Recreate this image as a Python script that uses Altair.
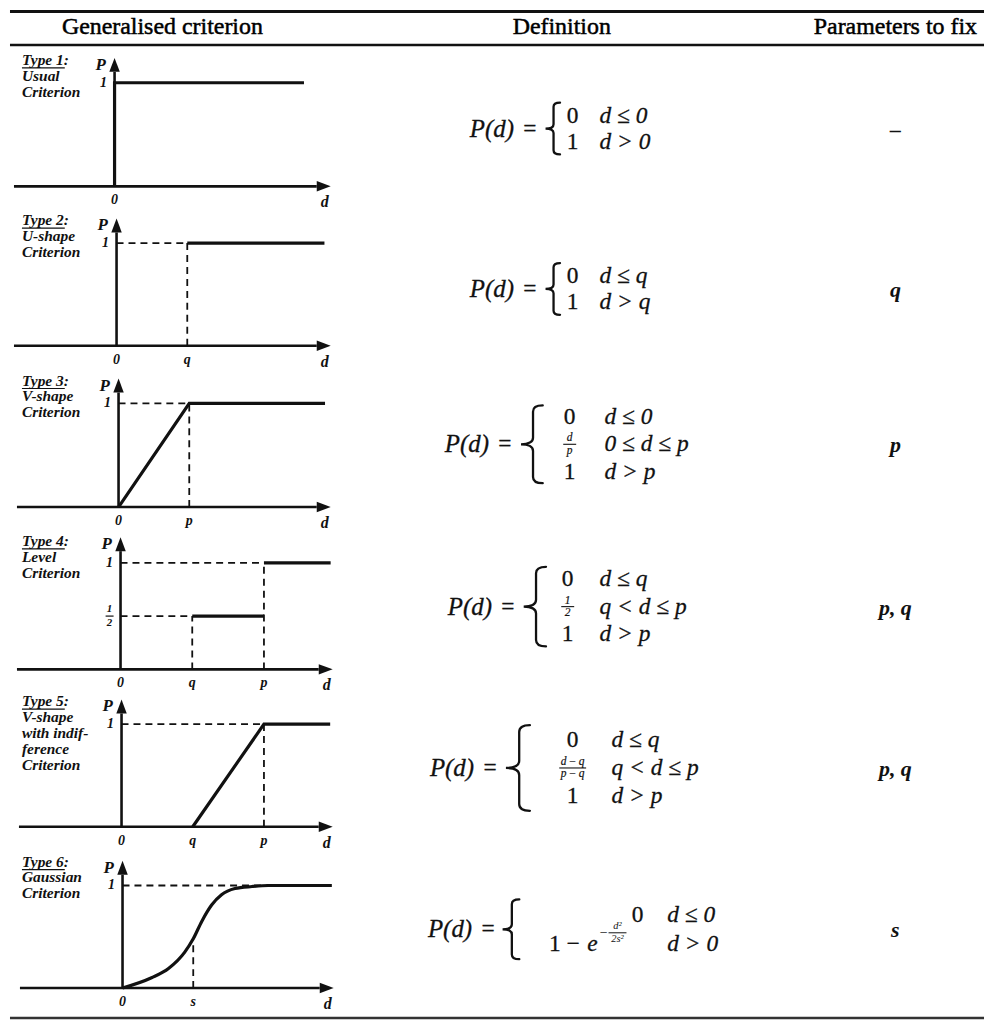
import altair as alt
import pandas as pd

# ---------------- data ----------------
HEADERS = ["Generalised criterion", "Definition", "Parameters to fix"]

TYPE_TEXT = [
    ["Type 1:", "Usual", "Criterion"],
    ["Type 2:", "U-shape", "Criterion"],
    ["Type 3:", "V-shape", "Criterion"],
    ["Type 4:", "Level", "Criterion"],
    ["Type 5:", "V-shape", "with indif-", "ference", "Criterion"],
    ["Type 6:", "Gaussian", "Criterion"],
]

# Gaussian curve (d in units of s)
GAUSS_D = [0, 0.41, 0.65, 0.88, 1.0, 1.12, 1.26, 1.40, 1.59, 1.83, 2.06, 2.96]
GAUSS_P = [0, 0.10, 0.19, 0.35, 0.48, 0.65, 0.81, 0.91, 0.97, 0.99, 1.0, 1.0]

# solid preference curves per type: list of segments, each a list of (d, P)
SOLID_LINES = [
    [[(0, 0), (0, 1), (2.66, 1)]],
    [[(1, 1), (2.94, 1)]],
    [[(0, 0), (1, 1), (2.92, 1)]],
    [[(1, 0.5), (2, 0.5)], [(2, 1), (2.93, 1)]],
    [[(1, 0), (2, 1), (2.93, 1)]],
    [list(zip(GAUSS_D, GAUSS_P))],
]

# dashed guide segments per type: (d1, P1, d2, P2)
DASHED_SEGMENTS = [
    [],
    [(0, 1, 1, 1), (1, 0, 1, 1)],
    [(0, 1, 1, 1), (1, 0, 1, 1)],
    [(0, 1, 2, 1), (0, 0.5, 1, 0.5), (1, 0, 1, 0.5), (2, 0, 2, 1)],
    [(0, 1, 2, 1), (2, 0, 2, 1)],
    [(0, 1, 2.7, 1), (1, 0, 1, 0.48)],
]

TICK_TEXT = [["0"], ["0", "q"], ["0", "p"], ["0", "q", "p"], ["0", "q", "p"], ["0", "s"]]
TICK_D = [[0], [0, 1], [0, 1], [0, 1, 2], [0, 1, 2], [0, 1]]

F_LHS = ["P(d)", "="]
F_VALUES = [
    ["0", "1"],
    ["0", "1"],
    ["0", "d/p", "1"],
    ["0", "1/2", "1"],
    ["0", "d\u2009−\u2009q/p\u2009−\u2009q", "1"],
    ["0", "1 −", "e"],
]
F_EXPONENT = ["−", "d²", "2s²"]
F_CONDS = [
    ["d ≤ 0", "d > 0"],
    ["d ≤ q", "d > q"],
    ["d ≤ 0", "0 ≤ d ≤ p", "d > p"],
    ["d ≤ q", "q < d ≤ p", "d > p"],
    ["d ≤ q", "q < d ≤ p", "d > p"],
    ["d ≤ 0", "d > 0"],
]
PARAMS = ["–", "q", "p", "p, q", "p, q", "s"]

# ---------------- layout ----------------
W = 978
ROW_H = 161
HEADER_H = 36
FOOTER_H = 14
SERIF = "Liberation Serif"
INK = "#111111"
OFF = 8  # page margin: reference px -> chart px

ZERO_REF = [113, 115, 117, 119, 120, 121]
UX = [71.5, 71.0, 71.0, 72.0, 71.5, 71.0]
BASE = [141, 140, 141, 143, 140, 141]
UY = [104, 103, 104, 107, 103, 103]
AXIS_START_REF = [12, 12, 15, 15, 17, 18]
AXIS_TIP_REF = [330, 330, 330, 332, 332, 333]
ARROW_TOP = 1.24

# formula layout (reference px)
FL = [
    dict(lhs=540, brace=553, bh=52, val=573, cond=600, yc=83, gap=26),
    dict(lhs=540, brace=553, bh=52, val=573, cond=600, yc=83, gap=26),
    dict(lhs=515, brace=532, bh=78, val=570, cond=605, yc=78, gap=27.5),
    dict(lhs=518, brace=535, bh=80, val=568, cond=600, yc=80, gap=27.5),
    dict(lhs=500, brace=518, bh=86, val=573, cond=612, yc=81, gap=28),
    dict(lhs=498, brace=511, bh=60, val=644, cond=668, yc=82, gap=29),
]
PARAM_X = 897
MATH_SIZE = 23.5

BRACE_PATH = ("M 0.28 -1 C 0.1 -1 0.03 -0.95 0.03 -0.84 L 0.03 -0.17 "
              "C 0.03 -0.06 -0.08 0 -0.28 0 C -0.08 0 0.03 0.06 0.03 0.17 "
              "L 0.03 0.84 C 0.03 0.95 0.1 1 0.28 1")


def ident_text(df, **props):
    return alt.Chart(df).mark_text(**props).encode(
        x=alt.X("px:Q", scale=None, axis=None),
        y=alt.Y("py:Q", scale=None, axis=None),
        text="t:N",
    )


def ident_rule(df, **props):
    return alt.Chart(df).mark_rule(**props).encode(
        x=alt.X("px:Q", scale=None, axis=None),
        x2="px2:Q",
        y=alt.Y("py:Q", scale=None, axis=None),
        y2="py2:Q",
    )


def row_chart(i):
    z = ZERO_REF[i] - OFF
    ux, uy, b = UX[i], UY[i], BASE[i]
    xs = alt.Scale(domain=[-z / ux, (W - z) / ux], nice=False, zero=False)
    ys = alt.Scale(domain=[-(ROW_H - b) / uy, b / uy], nice=False, zero=False)

    def X(f):
        return alt.X(f, type="quantitative", scale=xs, axis=None)

    def Y(f):
        return alt.Y(f, type="quantitative", scale=ys, axis=None)

    d_start = (AXIS_START_REF[i] - ZERO_REF[i]) / ux
    d_tip = (AXIS_TIP_REF[i] - ZERO_REF[i]) / ux
    ah = 14  # arrow head length px

    axes = pd.DataFrame({
        "x": [d_start, 0], "x2": [d_tip - ah / ux, 0],
        "y": [0, 0], "y2": [0, ARROW_TOP - ah / uy],
    })
    axis_layer = alt.Chart(axes).mark_rule(strokeWidth=2.6, color=INK).encode(
        x=X("x"), x2="x2", y=Y("y"), y2="y2")

    right = pd.DataFrame({"x": [d_tip - ah / 2 / ux], "y": [0]})
    up = pd.DataFrame({"x": [0], "y": [ARROW_TOP - ah / 2 / uy]})
    arrow_r = alt.Chart(right).mark_point(
        shape="M -1 -0.75 L 1 0 L -1 0.75 Z", filled=True, size=ah * ah,
        color=INK, opacity=1, strokeWidth=0).encode(x=X("x"), y=Y("y"))
    arrow_u = alt.Chart(up).mark_point(
        shape="M -0.75 1 L 0 -1 L 0.75 1 Z", filled=True, size=ah * ah,
        color=INK, opacity=1, strokeWidth=0).encode(x=X("x"), y=Y("y"))

    layers = [axis_layer, arrow_r, arrow_u]

    if DASHED_SEGMENTS[i]:
        dd = pd.DataFrame(DASHED_SEGMENTS[i], columns=["x", "y", "x2", "y2"])
        layers.append(alt.Chart(dd).mark_rule(
            strokeWidth=1.8, strokeDash=[7, 5], color=INK).encode(
            x=X("x"), x2="x2", y=Y("y"), y2="y2"))

    rows = []
    for s, seg in enumerate(SOLID_LINES[i]):
        for k, (d, p) in enumerate(seg):
            rows.append({"seg": s, "k": k, "d": d, "P": p})
    sd = pd.DataFrame(rows)
    layers.append(alt.Chart(sd).mark_line(
        strokeWidth=3.2, color=INK,
        interpolate="monotone" if i == 5 else "linear",
        strokeJoin="miter").encode(
        x=X("d"), y=Y("P"), detail="seg:N", order="k:Q"))

    lab_font = dict(font=SERIF, fontStyle="italic", fontWeight="bold",
                    color=INK, baseline="middle")
    tk = pd.DataFrame({"d": TICK_D[i], "t": TICK_TEXT[i]})
    tk["y"] = -14 / uy
    layers.append(alt.Chart(tk).mark_text(fontSize=14, align="center", **lab_font)
                  .encode(x=X("d"), y=Y("y"), text="t:N"))
    dl = pd.DataFrame({"d": [d_tip - 6 / ux], "y": [-16 / uy], "t": ["d"]})
    layers.append(alt.Chart(dl).mark_text(fontSize=16, align="center", **lab_font)
                  .encode(x=X("d"), y=Y("y"), text="t:N"))
    pl = pd.DataFrame({"d": [-14 / ux], "y": [ARROW_TOP - 7 / uy], "t": ["P"]})
    layers.append(alt.Chart(pl).mark_text(fontSize=17, align="center", **lab_font)
                  .encode(x=X("d"), y=Y("y"), text="t:N"))
    one = pd.DataFrame({"d": [-11 / ux], "y": [1.0], "t": ["1"]})
    layers.append(alt.Chart(one).mark_text(fontSize=14, align="center", **lab_font)
                  .encode(x=X("d"), y=Y("y"), text="t:N"))
    if i == 3:
        half = pd.DataFrame({"d": [-11 / ux, -11 / ux], "y": [0.5 + 7 / uy, 0.5 - 7 / uy],
                             "t": ["1", "2"]})
        layers.append(alt.Chart(half).mark_text(fontSize=11, align="center", **lab_font)
                      .encode(x=X("d"), y=Y("y"), text="t:N"))
        hb = pd.DataFrame({"x": [-15 / ux], "x2": [-7 / ux], "y": [0.5], "y2": [0.5]})
        layers.append(alt.Chart(hb).mark_rule(strokeWidth=1.2, color=INK).encode(
            x=X("x"), x2="x2", y=Y("y"), y2="y2"))

    # type label
    tl = pd.DataFrame({"px": [12], "py": [7], "t": ["\n".join(TYPE_TEXT[i])]})
    layers.append(ident_text(tl, font=SERIF, fontStyle="italic", fontWeight="bold",
                             fontSize=15.5, lineHeight=16, lineBreak="\n",
                             align="left", baseline="top", color=INK))
    ul = pd.DataFrame({"px": [12], "px2": [55], "py": [22], "py2": [22]})
    layers.append(ident_rule(ul, strokeWidth=1.2, color=INK))

    # formula
    f = FL[i]
    n = len(F_CONDS[i])
    ys_lines = [f["yc"] + (k - (n - 1) / 2) * f["gap"] for k in range(n)]
    math = dict(font=SERIF, fontSize=MATH_SIZE, color=INK, baseline="middle",
                stroke=INK, strokeWidth=0.3)
    lhs = pd.DataFrame({"px": [f["lhs"] - 26 - OFF], "py": [f["yc"]], "t": [F_LHS[0]]})
    layers.append(ident_text(lhs, fontStyle="italic", align="right", fontSize=25,
                             font=SERIF, color=INK, baseline="middle",
                             stroke=INK, strokeWidth=0.3))
    eq = pd.DataFrame({"px": [f["lhs"] - 10 - OFF], "py": [f["yc"]], "t": [F_LHS[1]]})
    layers.append(ident_text(eq, align="center", **math))
    br = pd.DataFrame({"px": [f["brace"] - OFF], "py": [f["yc"]]})
    layers.append(alt.Chart(br).mark_point(
        shape=BRACE_PATH, filled=False, size=f["bh"] ** 2, strokeWidth=2.3,
        color=INK, opacity=1, strokeCap="round").encode(
        x=alt.X("px:Q", scale=None, axis=None), y=alt.Y("py:Q", scale=None, axis=None)))
    conds = pd.DataFrame({"px": [f["cond"] - OFF] * n, "py": ys_lines, "t": F_CONDS[i]})
    layers.append(ident_text(conds, fontStyle="italic", align="left", **math))

    small = dict(font=SERIF, fontStyle="italic", fontSize=11.5, color=INK,
                 baseline="middle", align="center", stroke=INK, strokeWidth=0.2)
    plain_rows, frac_num, frac_bar = [], [], []
    if i == 5:
        y1, y2 = ys_lines
        layers.append(ident_text(pd.DataFrame({"px": [f["val"] - OFF], "py": [y1],
                                               "t": [F_VALUES[i][0]]}),
                                 align="right", **math))
        layers.append(ident_text(pd.DataFrame({"px": [580 - OFF], "py": [y2],
                                               "t": [F_VALUES[i][1]]}),
                                 align="right", **math))
        layers.append(ident_text(pd.DataFrame({"px": [598 - OFF], "py": [y2],
                                               "t": [F_VALUES[i][2]]}),
                                 fontStyle="italic", align="right", **math))
        ex = pd.DataFrame({"px": [604 - OFF], "py": [y2 - 11], "t": [F_EXPONENT[0]]})
        layers.append(ident_text(ex, font=SERIF, fontSize=14, color=INK,
                                 baseline="middle", align="center"))
        fx = pd.DataFrame({"px": [618 - OFF, 618 - OFF],
                           "py": [y2 - 17.5, y2 - 5],
                           "t": [F_EXPONENT[1], F_EXPONENT[2]]})
        layers.append(ident_text(fx, font=SERIF, fontStyle="italic", fontSize=10.5,
                                 color=INK, baseline="middle", align="center"))
        layers.append(ident_rule(pd.DataFrame({"px": [609 - OFF], "px2": [627 - OFF],
                                               "py": [y2 - 11], "py2": [y2 - 11]}),
                                 strokeWidth=1, color=INK))
    else:
        for k, v in enumerate(F_VALUES[i]):
            if "/" in v:
                a, c = v.split("/")
                cx = f["val"] - OFF
                frac_num.append({"px": cx, "py": ys_lines[k] - 6, "t": a})
                frac_num.append({"px": cx, "py": ys_lines[k] + 6.5, "t": c})
                w = 6 + 7 * max(len(a.replace("\u2009", "")), len(c.replace("\u2009", "")))
                frac_bar.append({"px": cx - w / 2, "px2": cx + w / 2,
                                 "py": ys_lines[k], "py2": ys_lines[k]})
            else:
                plain_rows.append({"px": f["val"] - OFF, "py": ys_lines[k], "t": v})
        layers.append(ident_text(pd.DataFrame(plain_rows), align="center", **math))
    if frac_num:
        layers.append(ident_text(pd.DataFrame(frac_num), **small))
        layers.append(ident_rule(pd.DataFrame(frac_bar), strokeWidth=1.1, color=INK))

    # parameters
    pr = pd.DataFrame({"px": [PARAM_X - OFF], "py": [f["yc"] + 1], "t": [PARAMS[i]]})
    layers.append(ident_text(pr, font=SERIF, fontStyle="italic", fontWeight="bold",
                             fontSize=22, color=INK, baseline="middle", align="center"))

    return alt.layer(*layers).resolve_scale(x="independent", y="independent").properties(
        width=W, height=ROW_H)


# header
hd = pd.DataFrame({"px": [161 - OFF, 562 - OFF, 897 - OFF], "py": [25 - OFF] * 3,
                   "t": HEADERS})
header = alt.layer(
    ident_text(hd, font=SERIF, fontSize=24, color="#000000", baseline="middle",
               align="center", stroke="#000000", strokeWidth=0.5),
    ident_rule(pd.DataFrame({"px": [0], "px2": [W], "py": [1.5], "py2": [1.5]}),
               strokeWidth=3, color=INK),
    ident_rule(pd.DataFrame({"px": [0], "px2": [W], "py": [35], "py2": [35]}),
               strokeWidth=2.5, color=INK),
).properties(width=W, height=HEADER_H)

footer = ident_rule(pd.DataFrame({"px": [0], "px2": [W], "py": [10], "py2": [10]}),
                    strokeWidth=2.5, color="#333333").properties(width=W, height=FOOTER_H)

chart = alt.vconcat(header, *[row_chart(i) for i in range(6)], footer,
                    spacing=0, bounds="flush").properties(
    padding=0, background="white").configure_view(strokeWidth=0)

chart.save("out.html", embed_options={"renderer": "svg", "actions": False})
